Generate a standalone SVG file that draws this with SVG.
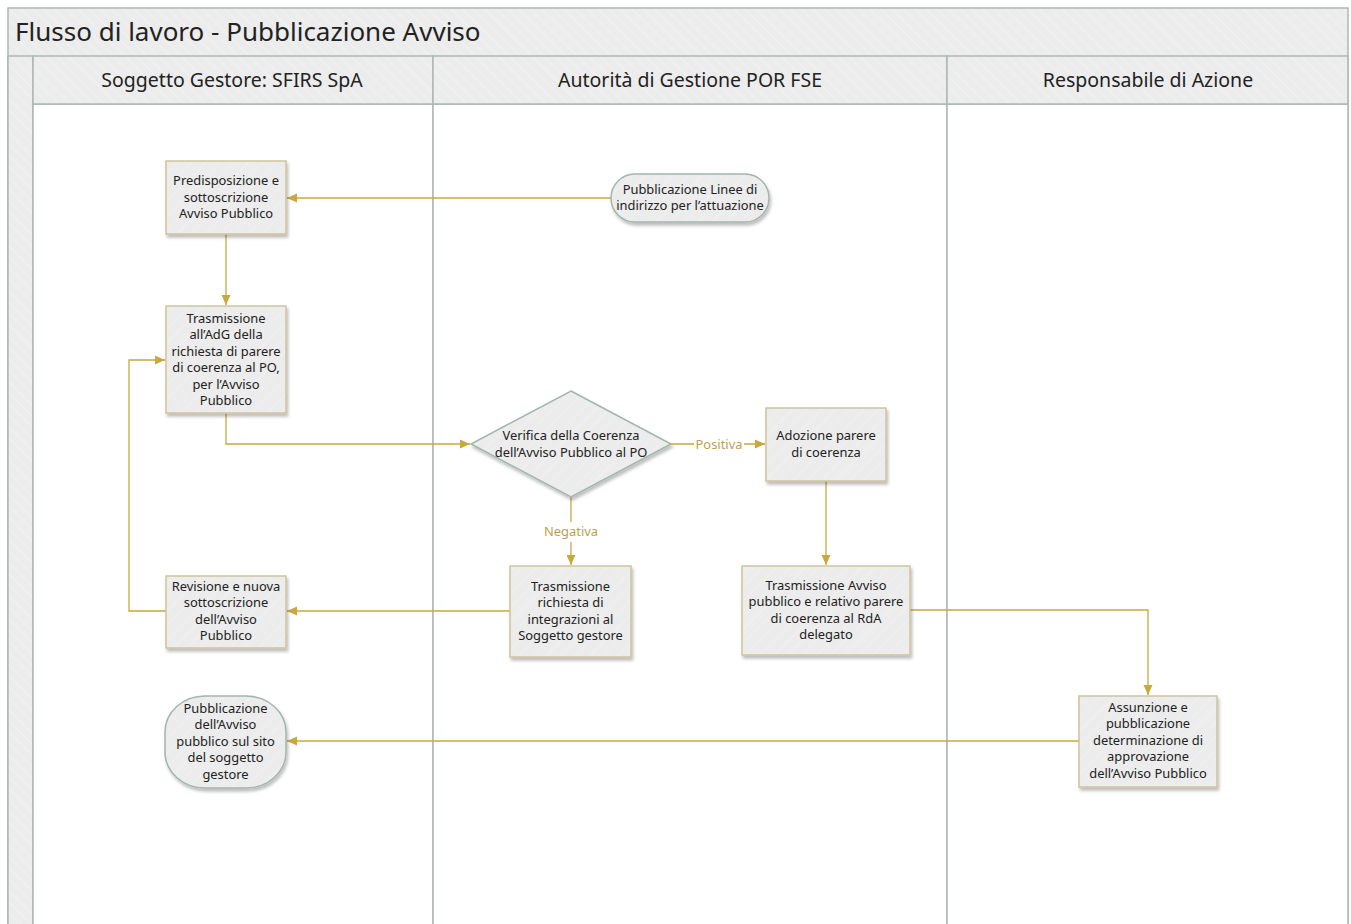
<svg xmlns="http://www.w3.org/2000/svg" width="1351" height="924" viewBox="0 0 1351 924">
<defs>
<style>
.hdr{fill:url(#stripeH);stroke:#a9bab3;stroke-width:1.5}
.lane{fill:#ffffff;stroke:#a9bab3;stroke-width:1.5}
.box{fill:url(#stripeN);stroke:#cfc29a;stroke-width:1.5;filter:url(#sh)}
.term{fill:url(#stripeN);stroke:#a3b5ac;stroke-width:1.5;filter:url(#sh)}
.t{font-family:"Noto Sans","Open Sans","DejaVu Sans",sans-serif;font-size:12.9px;fill:#222;text-anchor:middle}
.ht{font-family:"Noto Sans","Open Sans","DejaVu Sans",sans-serif;font-size:19.5px;fill:#222;text-anchor:middle}
.tt{font-family:"Noto Sans","Open Sans","DejaVu Sans",sans-serif;font-size:26px;fill:#222}
.c{fill:none;stroke:#c9a83e;stroke-width:1.3}
.lbl{font-family:"Noto Sans","Open Sans","DejaVu Sans",sans-serif;font-size:12.9px;fill:#bda14a;text-anchor:middle}
</style>
<pattern id="stripeH" width="8" height="8" patternUnits="userSpaceOnUse" patternTransform="rotate(-45)">
<rect width="8" height="8" fill="#ececec"/>
<line x1="0" y1="0" x2="0" y2="8" stroke="#f6f6f6" stroke-width="1"/>
</pattern>
<pattern id="stripeN" width="10" height="10" patternUnits="userSpaceOnUse" patternTransform="rotate(45)">
<rect width="10" height="10" fill="#ececec"/>
<line x1="0" y1="0" x2="0" y2="10" stroke="#f5f5f5" stroke-width="1"/>
</pattern>
<filter id="sh" x="-20%" y="-20%" width="140%" height="150%">
<feDropShadow dx="1.5" dy="3" stdDeviation="1.5" flood-color="#000" flood-opacity="0.25"/>
</filter>
<marker id="ah" viewBox="0 0 10 10" refX="10" refY="5" markerWidth="10" markerHeight="10" markerUnits="userSpaceOnUse" orient="auto">
<path d="M0,0.5 L10,5 L0,9.5 Z" fill="#c9a83e"/>
</marker>
</defs>

<g id="pool">
<rect x="8" y="8" width="1340" height="930" class="hdr"/>
<text x="15" y="40.5" class="tt">Flusso di lavoro - Pubblicazione Avviso</text>
<rect x="8" y="56" width="25" height="880" class="hdr"/>
</g>

<g id="lane1">
<rect x="33" y="104" width="400" height="830" class="lane"/>
<rect x="33" y="56" width="400" height="48" class="hdr"/>
<text x="232" y="87" class="ht">Soggetto Gestore: SFIRS SpA</text>
</g>
<g id="lane2">
<rect x="433" y="104" width="514" height="830" class="lane"/>
<rect x="433" y="56" width="514" height="48" class="hdr"/>
<text x="690" y="87" class="ht">Autorità di Gestione POR FSE</text>
</g>
<g id="lane3">
<rect x="947" y="104" width="401" height="830" class="lane"/>
<rect x="947" y="56" width="401" height="48" class="hdr"/>
<text x="1148" y="87" class="ht">Responsabile di Azione</text>
</g>

<g id="connectors">
<path class="c" d="M611,198 H287" marker-end="url(#ah)"/>
<path class="c" d="M226,234 V305" marker-end="url(#ah)"/>
<path class="c" d="M226,413 V444 H470" marker-end="url(#ah)"/>
<path class="c" d="M671,444 H694 M744,444 H765" marker-end="url(#ah)"/>
<text x="719" y="448.5" class="lbl">Positiva</text>
<path class="c" d="M571,497 V522 M571,542 V565" marker-end="url(#ah)"/>
<text x="571" y="536" class="lbl">Negativa</text>
<path class="c" d="M510,611 H287" marker-end="url(#ah)"/>
<path class="c" d="M166,611 H129 V360 H165" marker-end="url(#ah)"/>
<path class="c" d="M826,481 V565" marker-end="url(#ah)"/>
<path class="c" d="M910,610 H1148 V695" marker-end="url(#ah)"/>
<path class="c" d="M1079,741 H287" marker-end="url(#ah)"/>
</g>

<g id="n1">
<rect x="166" y="161" width="120" height="73" class="box"/>
<text class="t"><tspan x="226" y="185">Predisposizione e</tspan><tspan x="226" y="201.5">sottoscrizione</tspan><tspan x="226" y="218">Avviso Pubblico</tspan></text>
</g>
<g id="n2">
<rect x="611" y="174" width="158" height="48" rx="24" class="term"/>
<text class="t"><tspan x="690" y="194">Pubblicazione Linee di</tspan><tspan x="690" y="210">indirizzo per l’attuazione</tspan></text>
</g>
<g id="n3">
<rect x="166" y="306" width="120" height="107" class="box"/>
<text class="t"><tspan x="226" y="322.5">Trasmissione</tspan><tspan x="226" y="339">all’AdG della</tspan><tspan x="226" y="355.5">richiesta di parere</tspan><tspan x="226" y="372">di coerenza al PO,</tspan><tspan x="226" y="388.5">per l’Avviso</tspan><tspan x="226" y="405">Pubblico</tspan></text>
</g>
<g id="n4">
<polygon points="571,391 671,444 571,497 471,444" class="term"/>
<text class="t"><tspan x="571" y="440">Verifica della Coerenza</tspan><tspan x="571" y="456.5">dell’Avviso Pubblico al PO</tspan></text>
</g>
<g id="n5">
<rect x="766" y="408" width="120" height="73" class="box"/>
<text class="t"><tspan x="826" y="440">Adozione parere</tspan><tspan x="826" y="456.5">di coerenza</tspan></text>
</g>
<g id="n6">
<rect x="510" y="566" width="121" height="91" class="box"/>
<text class="t"><tspan x="570.5" y="590.5">Trasmissione</tspan><tspan x="570.5" y="607">richiesta di</tspan><tspan x="570.5" y="623.5">integrazioni al</tspan><tspan x="570.5" y="640">Soggetto gestore</tspan></text>
</g>
<g id="n7">
<rect x="166" y="576" width="120" height="72" class="box"/>
<text class="t"><tspan x="226" y="590.5">Revisione e nuova</tspan><tspan x="226" y="607">sottoscrizione</tspan><tspan x="226" y="623.5">dell’Avviso</tspan><tspan x="226" y="640">Pubblico</tspan></text>
</g>
<g id="n8">
<rect x="742" y="566" width="168" height="89" class="box"/>
<text class="t"><tspan x="826" y="589.5">Trasmissione Avviso</tspan><tspan x="826" y="606">pubblico e relativo parere</tspan><tspan x="826" y="622.5">di coerenza al RdA</tspan><tspan x="826" y="639">delegato</tspan></text>
</g>
<g id="n9">
<rect x="165" y="696" width="121" height="92" rx="40" ry="36" class="term"/>
<text class="t"><tspan x="225.5" y="712.5">Pubblicazione</tspan><tspan x="225.5" y="729">dell’Avviso</tspan><tspan x="225.5" y="745.5">pubblico sul sito</tspan><tspan x="225.5" y="762">del soggetto</tspan><tspan x="225.5" y="778.5">gestore</tspan></text>
</g>
<g id="n10">
<rect x="1079" y="696" width="138" height="91" class="box"/>
<text class="t"><tspan x="1148" y="711.5">Assunzione e</tspan><tspan x="1148" y="728">pubblicazione</tspan><tspan x="1148" y="744.5">determinazione di</tspan><tspan x="1148" y="761">approvazione</tspan><tspan x="1148" y="777.5">dell’Avviso Pubblico</tspan></text>
</g>
</svg>
